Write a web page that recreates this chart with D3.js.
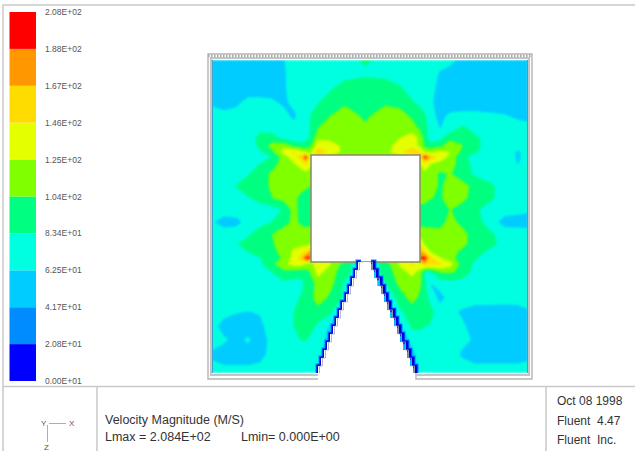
<!DOCTYPE html>
<html>
<head>
<meta charset="utf-8">
<script src="https://cdn.jsdelivr.net/npm/d3@7"></script>
<style>
  html, body { margin: 0; padding: 0; background: #fff; }
  svg { display: block; }
  text { font-family: "Liberation Sans", Arial, sans-serif; }
</style>
</head>
<body>
<script>
// velocity magnitude, M/S on an uneven mesh (mesh units, y down)
var xNodes = [0,12,24,36,48,60,72,82,89,94,99,106,118,133,153,173,188,200,208,213,219,228,238,250,263,278,293,306,316];
var yNodes = [0,14,28,42,56,68,78,86,92,97,104,114,126,138,150,162,174,184,192,198,204,212,224,238,252,266,280,294,313];
var velocity = [
  [52,52,52,52,52,52,62,73,73,73,73,73,73,76,86,78,73,73,73,73,73,73,70,56,52,52,52,52,52],
  [52,52,52,52,52,52,60,73,73,73,73,73,73,75,80,78,73,73,73,73,73,60,52,52,52,52,52,52,52],
  [52,52,52,52,52,52,60,73,73,73,73,73,80,94,96,94,86,73,73,73,70,55,52,52,52,52,52,52,52],
  [58,52,58,68,68,66,58,70,73,73,76,82,94,100,100,100,94,86,78,73,66,52,52,52,52,52,52,52,52],
  [73,70,70,73,73,73,70,58,73,76,85,94,104,116,100,116,116,100,94,86,68,58,66,68,68,66,64,58,55],
  [73,73,73,73,78,73,73,70,64,75,86,104,115,118,108,120,120,116,100,92,72,62,70,88,76,73,73,73,70],
  [73,73,73,73,90,94,78,73,70,78,88,120,118,118,118,120,125,135,120,94,72,78,100,100,88,73,73,73,70],
  [73,73,73,73,88,112,120,100,94,92,105,140,138,118,118,115,136,140,120,100,94,100,115,105,90,73,73,73,70],
  [73,73,73,73,80,100,135,150,135,125,120,170,140,118,116,116,142,165,150,125,120,130,125,100,86,73,73,60,70],
  [73,73,73,74,76,84,115,140,158,198,130,140,120,118,118,118,120,130,150,198,165,140,118,90,74,73,73,60,70],
  [73,73,73,73,84,96,114,124,132,150,130,116,116,116,116,116,116,116,125,140,125,118,112,96,76,73,73,62,70],
  [73,73,73,82,94,108,118,118,118,118,116,116,116,116,116,116,116,116,116,120,118,100,106,94,80,73,73,73,70],
  [73,73,84,94,100,106,116,112,110,108,104,108,108,108,108,108,108,108,108,115,118,100,115,112,98,88,73,73,70],
  [73,73,73,82,90,104,112,108,100,94,94,100,100,100,100,100,100,100,115,113,105,102,112,110,96,88,73,73,70],
  [73,73,73,73,74,73,86,112,96,94,94,94,94,94,94,94,94,94,94,94,94,96,105,96,88,73,70,68,66],
  [65,54,56,70,76,84,96,110,100,96,96,96,96,96,96,96,96,96,96,96,94,96,112,98,94,72,55,54,52],
  [73,73,73,80,94,104,115,116,116,116,118,118,118,118,118,118,118,118,118,116,116,112,116,112,94,88,73,73,73],
  [73,73,82,92,96,102,115,118,118,118,125,125,125,125,125,125,125,125,150,120,118,106,112,110,96,92,73,73,73],
  [73,73,73,84,94,100,110,130,142,150,175,130,120,120,120,120,120,130,175,150,125,104,112,100,94,78,73,73,73],
  [73,73,73,73,82,94,108,135,156,198,190,130,120,120,120,120,120,130,190,198,150,128,112,94,86,73,73,73,73],
  [73,73,73,73,80,100,120,135,135,125,115,145,128,94,60,92,130,150,140,165,156,150,135,96,80,73,73,73,73],
  [73,73,73,73,73,84,100,96,92,94,108,135,112,94,60,92,116,132,118,80,84,106,108,98,76,73,73,73,73],
  [73,73,73,73,73,73,78,74,76,90,96,112,112,80,60,82,110,114,108,88,62,70,73,73,73,73,73,73,73],
  [73,73,73,73,73,73,73,76,86,94,100,115,100,78,60,60,94,112,100,88,78,56,70,73,73,73,73,73,73],
  [73,70,64,62,64,70,73,84,94,94,94,96,88,50,50,50,80,94,94,92,88,73,68,60,52,52,50,52,60],
  [70,54,52,52,58,72,73,84,94,94,88,80,60,50,50,50,60,88,88,84,82,73,73,66,54,50,50,50,56],
  [70,66,56,66,52,70,73,76,84,84,80,78,50,50,50,50,40,70,73,73,73,73,73,68,60,50,50,50,58],
  [60,52,52,52,55,70,73,73,73,73,73,72,40,40,40,40,40,55,73,73,73,73,73,60,52,52,52,52,58],
  [68,70,70,70,72,73,73,73,73,73,73,73,40,40,40,40,40,40,73,73,73,73,73,73,73,73,73,73,70]
];

// colour bands and their labels, lowest first
var levels = [0,20.84,41.68,62.52,83.36,104.2,125.04,145.88,166.72,187.56];
var bandColors = ["#0000ff","#008cff","#00ccff","#00ffe0","#00ff80","#80ff00","#e4ff00","#ffdc00","#ff9800","#ff0000"];
var legendLabels = ["0.00E+01","2.08E+01","4.17E+01","6.25E+01","8.34E+01","1.04E+02","1.25E+02","1.46E+02","1.67E+02","1.88E+02","2.08E+02"];
var legendValues = [0,20.84,41.68,62.52,83.36,104.2,125.04,145.88,166.72,187.56,208.4];

// geometry in mesh units: the block and the stepped inlet walls
var block = {x0: 99, x1: 208, y0: 95, y1: 202};
var wallY = [202,210,218,226,234,242,250,258,266,274,282,290,298,306,313];
var wallLeft = [149,146,143,140,137,134,130,127,124,121,118,115,112,109,106];
var wallRight = [159,162,165,169,172,175,178,182,185,188,191,195,198,201,204];

var width = 635, height = 451;
var svg = d3.select("body").append("svg").attr("width", width).attr("height", height);

var x = d3.scaleLinear().domain([0,316]).range([212,528]);
var y = d3.scaleLinear().domain([0,313]).range([60,373]);
var xIndex = d3.scaleLinear().domain(d3.range(xNodes.length)).range(xNodes).clamp(true);
var yIndex = d3.scaleLinear().domain(d3.range(yNodes.length)).range(yNodes).clamp(true);
var legendY = d3.scaleLinear().domain([0,208.4]).range([381,12]);

// page frame
var frameColor = "#c9c9c9";
svg.append("path").attr("fill","none").attr("stroke",frameColor).attr("stroke-width",1.5)
  .attr("d","M3,451V5H635");
svg.append("path").attr("fill","none").attr("stroke",frameColor).attr("stroke-width",1.5)
  .attr("d","M3,386.5H635M97,386.5V451M546,386.5V451");

// contours
var flat = d3.merge(velocity);
var contours = d3.contours().size([xNodes.length, yNodes.length]).thresholds(levels)(flat);
var meshPath = d3.geoPath(d3.geoTransform({
  point: function(px, py) {
    this.stream.point(x(xIndex(px - 0.5)), y(yIndex(py - 0.5)));
  }
}));

svg.append("clipPath").attr("id","domain").append("rect")
  .attr("x",x(0)).attr("y",y(0)).attr("width",x(316)-x(0)).attr("height",y(313)-y(0));

svg.append("g").attr("clip-path","url(#domain)")
  .append("g").style("filter","blur(0.9px)")
  .selectAll("path").data(contours).join("path")
  .attr("d",meshPath)
  .attr("fill",function(d,i){return bandColors[i];});

// side walls pick up a darker tint
svg.append("path").attr("fill","none").attr("stroke","#2a9fd0").attr("stroke-width",1.2)
  .attr("d","M"+x(0.5)+","+y(0)+"V"+y(313)+"M"+x(315.5)+","+y(0)+"V"+y(313));

// block in the middle
svg.append("rect")
  .attr("x",x(block.x0)).attr("y",y(block.y0))
  .attr("width",x(block.x1)-x(block.x0)).attr("height",y(block.y1)-y(block.y0))
  .attr("fill","#fff").attr("stroke","#8f8f6a").attr("stroke-width",1.6);

// stepped inlet
var stairs = d3.line().curve(d3.curveStepAfter).x(function(d){return x(d[0]);}).y(function(d){return y(d[1]);});
var leftPts = d3.zip(wallLeft, wallY), rightPts = d3.zip(wallRight, wallY);
[leftPts, rightPts].forEach(function(p){
  svg.append("path").attr("d",stairs(p)).attr("fill","none").attr("stroke","#0090ff").attr("stroke-width",5);
  svg.append("path").attr("d",stairs(p)).attr("fill","none").attr("stroke","#0000d8").attr("stroke-width",3);
});
var wedge = stairs(leftPts) + "L" + stairs(rightPts.slice().reverse()).slice(1) + "Z";
svg.append("path").attr("d",wedge).attr("fill","#fff");
[leftPts, rightPts].forEach(function(p){
  svg.append("path").attr("d",stairs(p)).attr("fill","none").attr("stroke","#aaa").attr("stroke-width",0.8)
    .attr("transform","translate("+(p===leftPts?1.5:-1.5)+",0)");
});

// duct frame
var outer = "M"+x(106)+","+y(319)+"H"+x(-4)+"V"+y(-6)+"H"+x(320)+"V"+y(319)+"H"+x(204)+"V"+y(313);
var inner = "M"+x(106)+","+y(315)+"H"+x(-1)+"V"+y(-2)+"H"+x(317)+"V"+y(315)+"H"+x(204);
svg.append("path").attr("d",outer).attr("fill","none").attr("stroke","#b5b5b5").attr("stroke-width",1.4);
svg.append("path").attr("d",inner).attr("fill","none").attr("stroke","#c4c4c4").attr("stroke-width",2.2);
svg.append("path").attr("d","M"+x(-4)+","+y(-4)+"H"+x(320)).attr("fill","none")
  .attr("stroke","#a8a8a8").attr("stroke-width",2.5).attr("stroke-dasharray","1.5,1.5");

// legend bar
svg.append("g").selectAll("rect").data(levels).join("rect")
  .attr("x",9.5).attr("width",26.5)
  .attr("y",function(d,i){return legendY(legendValues[i+1]);})
  .attr("height",function(d,i){return legendY(legendValues[i])-legendY(legendValues[i+1]);})
  .attr("fill",function(d,i){return bandColors[i];});

svg.append("g").selectAll("text").data(legendLabels).join("text")
  .attr("x",45).attr("y",function(d,i){return legendY(legendValues[i]);})
  .attr("dy",3).attr("font-size",8.5).attr("fill","#555")
  .text(function(d){return d;});

// footer
var footerLeft = [
  {t:"Velocity Magnitude (M/S)", x:105, y:424},
  {t:"Lmax = 2.084E+02", x:105, y:441},
  {t:"Lmin= 0.000E+00", x:241, y:441}
];
var footerRight = [
  {t:"Oct 08 1998", y:405},
  {t:"Fluent  4.47", y:425},
  {t:"Fluent  Inc.", y:444}
];
svg.append("g").selectAll("text").data(footerLeft).join("text")
  .attr("x",function(d){return d.x;}).attr("y",function(d){return d.y;})
  .attr("font-size",12.5).attr("fill","#333").style("white-space","pre")
  .text(function(d){return d.t;});
svg.append("g").selectAll("text").data(footerRight).join("text")
  .attr("x",557).attr("y",function(d){return d.y;})
  .attr("font-size",12).attr("fill","#333").style("white-space","pre")
  .text(function(d){return d.t;});

// axis triad
svg.append("path").attr("fill","none").attr("stroke","#999").attr("stroke-width",0.8)
  .attr("d","M49,423.5H66M47.5,425V442");
svg.append("g").selectAll("text").data([["Y",41,426],["X",69,426],["Z",44,450]]).join("text")
  .attr("x",function(d){return d[1];}).attr("y",function(d){return d[2];})
  .attr("font-size",8).attr("fill","#555")
  .text(function(d){return d[0];});
</script>
</body>
</html>
